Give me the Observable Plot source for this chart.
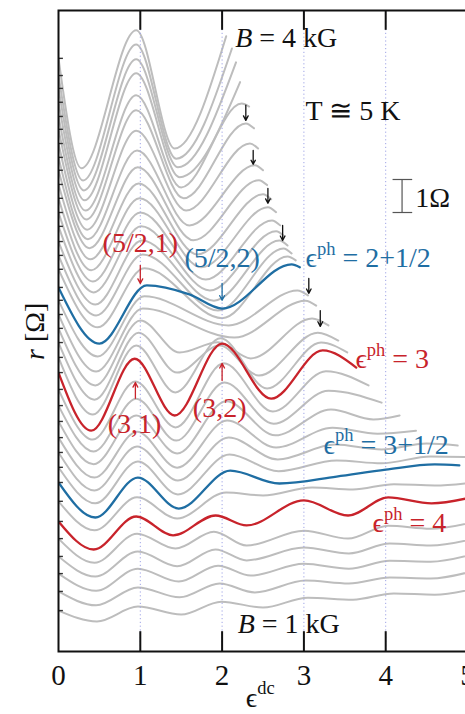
<!DOCTYPE html>
<html><head><meta charset="utf-8">
<script src="https://cdn.jsdelivr.net/npm/d3@7"></script>
<script src="https://cdn.jsdelivr.net/npm/@observablehq/plot@0.6"></script>
<style>html,body{margin:0;padding:0;overflow:hidden;background:#fff}
#chart svg{max-width:none !important;width:480px !important;height:714px !important;display:block}</style>
</head><body><div id="chart"></div>
<script>
// vertical offset of each trace (Ω), top trace B = 4 kG ... bottom trace B = 1 kG
const offsets = [17.97,17.45,17.06,16.64,16.21,15.82,15.39,14.97,14.58,14.15,13.73,13.30,12.88,12.42,12.00,11.58,11.03,10.64,10.21,9.79,9.36,8.91,8.45,7.94,7.45,6.97,6.48,6.03,5.58,5.12,4.55,3.94,3.42,2.88,2.36,1.82,1.24];
// ε^dc sample points of each trace (extrema)
const epsPts = [
 [0,0.28,0.95,1.42,2.05],
 [0,0.30,0.95,1.44,2.12],
 [0,0.31,0.95,1.46,2.17],
 [0,0.32,0.95,1.48,2.22],
 [0,0.33,0.95,1.50,2.24,2.33],
 [0,0.34,0.95,1.53,2.29,2.39],
 [0,0.35,0.95,1.56,2.34,2.44],
 [0,0.36,0.96,1.60,2.40,2.50],
 [0,0.38,0.97,1.65,2.45,2.55],
 [0,0.39,0.98,1.70,2.50,2.60],
 [0,0.40,0.99,1.75,2.56,2.66],
 [0,0.42,1.00,1.80,2.61,2.71],
 [0,0.43,1.01,1.85,2.66,2.76],
 [0,0.45,1.02,1.90,2.70,2.80],
 [0,0.46,1.03,1.95,2.75,2.85],
 [0,0.48,1.05,2.00,2.80,2.90],
 [0,0.50,1.08,1.60,2.00,2.85,2.95],
 [0,0.48,1.05,2.08,2.92,3.05],
 [0,0.46,1.03,2.15,3.02,3.15],
 [0,0.45,1.00,1.48,1.95,2.35,3.10,3.30],
 [0,0.44,0.98,1.45,1.97,2.45,3.17,3.42],
 [0,0.42,0.95,1.43,1.98,2.55,3.21,3.53],
 [0,0.40,0.93,1.42,2.00,2.60,3.23,3.64],
 [0,0.42,0.94,1.43,2.02,2.62,3.27,3.79],
 [0,0.43,0.95,1.44,2.03,2.63,3.30,3.95],
 [0,0.43,0.95,1.45,2.05,2.65,3.33,3.85,4.17],
 [0,0.44,0.96,1.45,2.06,2.66,3.35,3.90,4.37],
 [0,0.44,0.96,1.46,2.08,2.68,3.38,3.95,4.50,4.88],
 [0,0.45,0.97,1.46,2.09,2.69,3.40,3.95,4.55,5.10],
 [0,0.45,0.97,1.47,2.10,2.70,3.40,4.00,4.60,4.90],
 [0,0.44,0.96,1.45,2.05,2.50,3.10,3.60,4.10,4.60,5.10],
 [0,0.43,0.95,1.40,1.92,2.30,3.00,3.54,4.03,4.56,5.10],
 [0,0.44,0.96,1.43,1.90,2.30,3.00,3.54,4.03,4.55,5.10],
 [0,0.45,0.97,1.45,1.92,2.30,3.00,3.55,4.05,4.55,5.10],
 [0,0.46,0.97,1.47,1.95,2.35,3.00,3.55,4.05,4.55,5.10],
 [0,0.46,0.97,1.48,1.97,2.40,3.02,3.55,4.05,4.55,5.10],
 [0,0.47,0.97,1.50,1.99,2.50,3.05,3.60,4.10,4.60,5.10]
];
// r relative to the trace offset (Ω) at those points
const drPts = [
 [0,-3.33,0.85,-2.73,0.67],
 [0,-3.18,0.94,-2.52,0.82],
 [0,-3.09,0.88,-2.39,0.79],
 [0,-2.97,0.88,-2.27,0.61],
 [0,-2.85,0.64,-2.15,0.39,0.30],
 [0,-2.73,0.58,-2.09,0.18,0.03],
 [0,-2.61,0.39,-2.03,0,-0.15],
 [0,-2.48,0.21,-2.06,-0.24,-0.39],
 [0,-2.36,0.09,-2.12,-0.30,-0.45],
 [0,-2.27,0.03,-2.12,-0.30,-0.45],
 [0,-2.18,0,-2.09,-0.27,-0.42],
 [0,-2.09,0,-2.03,-0.24,-0.39],
 [0,-2.00,0,-1.94,-0.15,-0.30],
 [0,-1.91,0.03,-1.79,0.03,-0.12],
 [0,-1.82,0.03,-1.67,0.21,0.06],
 [0,-1.76,0.03,-1.48,0.39,0.27],
 [0,-1.70,0.06,-0.21,-0.64,0.70,0.61],
 [0,-1.70,0.12,-0.76,0.30,0.15],
 [0,-1.73,0.18,-0.70,0.42,0.27],
 [0,-1.73,0.24,-0.73,-0.42,-0.91,0.30,0.09],
 [0,-1.73,0.30,-0.91,-0.09,-1.00,0.30,0.06],
 [0,-1.73,0.36,-1.06,0.58,-0.94,0.45,0.15],
 [0,-1.76,0.42,-1.30,0.88,-0.79,0.67,0.15],
 [0,-1.52,0.24,-1.15,0.79,-0.67,0.55,0.12],
 [0,-1.39,0.21,-1.06,0.70,-0.55,0.45,0.09],
 [0,-1.30,0.18,-0.97,0.61,-0.42,0.36,0.06,0.18],
 [0,-1.21,0.18,-0.91,0.52,-0.30,0.30,0.12,0.21],
 [0,-1.15,0.18,-0.85,0.45,-0.21,0.24,0.09,0.27,0.21],
 [0,-1.09,0.18,-0.82,0.39,-0.12,0.21,0.12,0.33,0.30],
 [0,-1.06,0.15,-0.79,0.36,-0.03,0.18,0.39,0.55,0.52],
 [0,-0.88,0.12,-0.52,0.27,0.18,0.42,0.36,0.52,0.48,0.58],
 [0,-0.85,0.15,-0.42,0.18,-0.12,0.64,0.18,0.73,0.55,0.76],
 [0,-0.73,0.15,-0.30,0.21,-0.21,0.24,0,0.39,0.30,0.52],
 [0,-0.61,0.15,-0.30,0.21,-0.12,0.27,0.09,0.39,0.33,0.55],
 [0,-0.52,0.15,-0.24,0.24,-0.06,0.30,0.15,0.39,0.36,0.61],
 [0,-0.42,0.12,-0.18,0.24,-0.03,0.33,0.24,0.42,0.39,0.64],
 [0,-0.33,0.12,-0.12,0.27,0.09,0.39,0.33,0.52,0.48,0.67]
];
const blueCurves = [16, 29];   // ε^ph = 2+1/2, 3+1/2
const redCurves = [22, 31];    // ε^ph = 3, 4
const xTicks = [0, 1, 2, 3, 4, 5];
const innerTicks = [1, 2, 3, 4];
const scaleBar = {x: 4.2, r0: 13.30, r1: 14.30};

const notes = [
 {x:2.16, y:18.58, text:"*B* = 4 kG", color:"black", anchor:"start"},
 {x:3.02, y:16.36, text:"T ≅ 5 K", color:"black", anchor:"start"},
 {x:4.36, y:13.73, text:"1Ω", color:"black", anchor:"start"},
 {x:1.00, y:12.36, text:"(5/2,1)", color:"red", anchor:"middle"},
 {x:2.00, y:11.91, text:"(5/2,2)", color:"blue", anchor:"middle"},
 {x:3.02, y:11.91, text:"ϵ^{ph} = 2+1/2", color:"blue", anchor:"start"},
 {x:3.63, y:8.85, text:"ϵ^{ph} = 3", color:"red", anchor:"start"},
 {x:0.93, y:6.88, text:"(3,1)", color:"red", anchor:"middle"},
 {x:1.97, y:7.39, text:"(3,2)", color:"red", anchor:"middle"},
 {x:3.24, y:6.27, text:"ϵ^{ph} = 3+1/2", color:"blue", anchor:"start"},
 {x:3.84, y:3.88, text:"ϵ^{ph} = 4", color:"red", anchor:"start"},
 {x:2.19, y:0.82, text:"*B* = 1 kG", color:"black", anchor:"start"},
 {x:2.29, y:-1.40, text:"ϵ^{dc}", color:"black", anchor:"start"}
];
// annotation arrows: x, top and bottom (Ω)
const arrows = [
 {x:1.00, top:11.70, bot:11.15, color:"red", dir:"down"},
 {x:2.00, top:11.15, bot:10.64, color:"blue", dir:"down"},
 {x:2.29, top:16.55, bot:16.09, color:"black", dir:"down"},
 {x:2.38, top:15.18, bot:14.76, color:"black", dir:"down"},
 {x:2.56, top:14.03, bot:13.58, color:"black", dir:"down"},
 {x:2.74, top:12.91, bot:12.45, color:"black", dir:"down"},
 {x:3.06, top:11.30, bot:10.85, color:"black", dir:"down"},
 {x:3.20, top:10.33, bot:9.85, color:"black", dir:"down"},
 {x:0.94, top:8.15, bot:7.67, color:"red", dir:"up"},
 {x:2.00, top:8.73, bot:8.21, color:"red", dir:"up"}
];

const BLUE = "#1f6ea3", RED = "#c8232b", GRAY = "#bdbdbd", INK = "#111";
const colorOf = {black: INK, red: RED, blue: BLUE};
const serif = "'Liberation Serif', 'DejaVu Serif', 'Times New Roman', serif";
const FS = 28;

const rows = [];
offsets.forEach((o, i) => epsPts[i].forEach((e, k) => rows.push({curve: i, eps: e, r: o + drPts[i][k]})));
const kind = i => blueCurves.includes(i) ? "blue" : redCurves.includes(i) ? "red" : "gray";

const textMarks = [];
for (const c of ["black", "red", "blue"]) {
  for (const anchor of ["start", "middle"]) {
    const d = notes.filter(n => n.color === c && n.anchor === anchor);
    if (d.length) textMarks.push(Plot.text(d, {x: "x", y: "y", text: "text", fill: colorOf[c], fontSize: FS, textAnchor: anchor, fontFamily: serif}));
  }
  const a = arrows.filter(n => n.color === c);
  if (a.length) {
    textMarks.push(Plot.arrow(a, {x1: "x", x2: "x", y1: d => d.dir === "down" ? d.top : d.bot, y2: d => d.dir === "down" ? d.bot : d.top,
      stroke: colorOf[c], strokeWidth: 1.3, headLength: 6, headAngle: 55}));
  }
}

const plot = Plot.plot({
  width: 480, height: 714,
  marginLeft: 58, marginRight: 13, marginTop: 10, marginBottom: 63,
  x: {domain: [0, 5], axis: null},
  y: {domain: [0, 19.42], axis: null},
  style: {fontFamily: serif, background: "white", overflow: "visible"},
  marks: [
    Plot.line(rows.filter(d => kind(d.curve) === "gray"), {x: "eps", y: "r", z: "curve", stroke: GRAY, strokeWidth: 2, curve: "monotone-x", clip: true}),
    Plot.ruleX(innerTicks, {stroke: "#9ea3e6", strokeDasharray: "1.2,2.6", strokeWidth: 1}),
    Plot.line(rows.filter(d => kind(d.curve) === "blue"), {x: "eps", y: "r", z: "curve", stroke: BLUE, strokeWidth: 2.3, curve: "monotone-x", clip: true}),
    Plot.line(rows.filter(d => kind(d.curve) === "red"), {x: "eps", y: "r", z: "curve", stroke: RED, strokeWidth: 2.3, curve: "monotone-x", clip: true}),
    Plot.ruleY(offsets, {x1: 0, x2: 0.06, stroke: "#333", strokeWidth: 1.4}),
    Plot.ruleX(innerTicks, {y1: 0, y2: 0.6, stroke: INK, strokeWidth: 2}),
    Plot.ruleX(innerTicks, {y1: 18.82, y2: 19.42, stroke: INK, strokeWidth: 2}),
    Plot.frame({stroke: INK, strokeWidth: 2}),
    Plot.ruleX([scaleBar], {x: "x", y1: "r0", y2: "r1", stroke: "#555", strokeWidth: 1.2}),
    Plot.ruleY([scaleBar.r0, scaleBar.r1], {x1: scaleBar.x - 0.11, x2: scaleBar.x + 0.13, stroke: "#555", strokeWidth: 1.2}),
    Plot.text(xTicks, {x: d => d, y: -0.74, text: d => String(d), fontSize: 29, fill: INK, fontFamily: serif}),
    Plot.text(["*r* [Ω]"], {x: -0.29, y: 9.7, text: d => d, rotate: -90, fontSize: FS, fill: INK, fontFamily: serif}),
    ...textMarks
  ]
});
document.getElementById("chart").appendChild(plot);

// rich text: *italic* and ^{superscript}
const NS = "http://www.w3.org/2000/svg";
const re = /\^\{([^}]*)\}|\*([^*]+)\*|([^\^*]+)/g;
plot.querySelectorAll("text").forEach(t => {
  const s = t.textContent;
  if (!/[\^*]/.test(s)) return;
  const fs = parseFloat(getComputedStyle(t).fontSize) || 20;
  while (t.firstChild) t.removeChild(t.firstChild);
  let raised = false;
  for (const m of s.matchAll(re)) {
    const ts = document.createElementNS(NS, "tspan");
    if (m[1] !== undefined) {
      ts.textContent = m[1];
      ts.setAttribute("font-size", (fs * 0.66).toFixed(1));
      ts.setAttribute("dy", (-fs * 0.45).toFixed(1));
      raised = true;
    } else {
      if (m[2] !== undefined) { ts.textContent = m[2]; ts.setAttribute("font-style", "italic"); }
      else ts.textContent = m[3];
      if (raised) { ts.setAttribute("dy", (fs * 0.45).toFixed(1)); raised = false; }
    }
    t.appendChild(ts);
  }
});
</script></body></html>
